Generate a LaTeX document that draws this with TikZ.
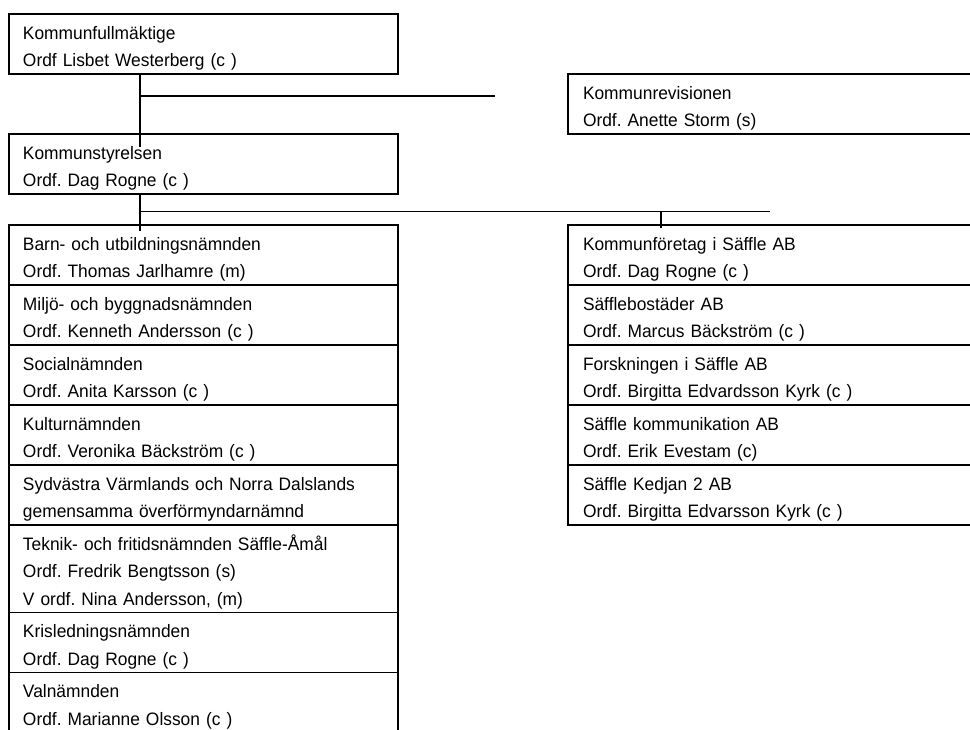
\documentclass[tikz,border=0pt]{standalone}
\usepackage{fontspec}
\setmainfont[FakeStretch=0.965]{Liberation Sans}
\usetikzlibrary{positioning}
\frenchspacing
\def\toprow{\rule{0pt}{25pt}}
\def\lastrow{\rule[-7.5pt]{0pt}{7.5pt}}
\tikzset{
  orgbox/.style={draw, line width=1.4pt, anchor=north west, outer sep=0pt,
    inner xsep=14pt, inner ysep=0pt, text width=361pt, align=left,
    font=\fontsize{18}{27.5}\selectfont},
  orgboxr/.style={orgbox, inner xsep=15pt, text width=400pt},
  link/.style={line width=1.4pt},
  hline/.style={line width=1.1pt}
}

\begin{document}
\begin{tikzpicture}[x=1pt, y=-1pt]
			%%%%% START %%%%%
			\useasboundingbox (0,0) rectangle (970,729);
			\clip (0,0) rectangle (970,729);
			
			\node[orgbox] (kf) at (9,14) {\toprow Kommunfullmäktige\\Ordf Lisbet Westerberg (c )\lastrow};
			\node[orgbox] (ks) at (9,134) {\toprow Kommunstyrelsen\\Ordf. Dag Rogne (c )\lastrow};
			\node[orgboxr] (kr) at (568,74) {\toprow Kommunrevisionen\\Ordf. Anette Storm (s)\lastrow};
			
			% naemnder
			\node[orgbox] (bun) at (9,225) {\toprow Barn- och utbildningsnämnden\\Ordf. Thomas Jarlhamre (m)\lastrow};
			\node[orgbox, below=0pt of bun] (mbn) {\toprow Miljö- och byggnadsnämnden\\Ordf. Kenneth Andersson (c )\lastrow};
			\node[orgbox, below=0pt of mbn] (sn) {\toprow Socialnämnden\\Ordf. Anita Karsson (c )\lastrow};
			\node[orgbox, below=0pt of sn] (kn) {\toprow Kulturnämnden\\Ordf. Veronika Bäckström (c )\lastrow};
			\node[orgbox, below=0pt of kn] (ofn) {\toprow Sydvästra Värmlands och Norra Dalslands\\gemensamma överförmyndarnämnd\lastrow};
			\node[orgbox, below=0pt of ofn] (tfn) {\toprow Teknik- och fritidsnämnden Säffle-Åmål\\Ordf. Fredrik Bengtsson (s)\\V ordf. Nina Andersson, (m)\lastrow};
			\node[orgbox, below=0pt of tfn] (kln) {\toprow Krisledningsnämnden\\Ordf. Dag Rogne (c )\lastrow};
			\node[orgbox, below=0pt of kln] (vn) {\toprow Valnämnden\\Ordf. Marianne Olsson (c )\lastrow};
			
			% bolag
			\node[orgboxr] (kfab) at (568,225) {\toprow Kommunföretag i Säffle AB\\Ordf. Dag Rogne (c )\lastrow};
			\node[orgboxr, below=0pt of kfab] (sbab) {\toprow Säfflebostäder AB\\Ordf. Marcus Bäckström (c )\lastrow};
			\node[orgboxr, below=0pt of sbab] (fsab) {\toprow Forskningen i Säffle AB\\Ordf. Birgitta Edvardsson Kyrk (c )\lastrow};
			\node[orgboxr, below=0pt of fsab] (skab) {\toprow Säffle kommunikation AB\\Ordf. Erik Evestam (c)\lastrow};
			\node[orgboxr, below=0pt of skab] (kdab) {\toprow Säffle Kedjan 2 AB\\Ordf. Birgitta Edvarsson Kyrk (c )\lastrow};
			
			% lines
			\coordinate (j1) at (140,96);
			\coordinate (j1end) at (495,96);
			\coordinate (j1low) at (140,147);
			\coordinate (j2) at (140,211.5);
			\coordinate (j2end) at (770,211.5);
			\coordinate (j2low) at (140,231);
			\coordinate (j3) at (661,211.5);
			
			\draw[link] (kf.south west -| j1) -- (j1low);
			\draw[hline] (j1) -- (j1end);
			\draw[link] (ks.south west -| j2) -- (j2low);
			\draw[hline] (j2) -- (j2end);
			\draw[link] (j3) -- (kfab.north west -| j3) -- ++(0,3);
			
			%%%%% END %%%%%
\end{tikzpicture}
\end{document}
